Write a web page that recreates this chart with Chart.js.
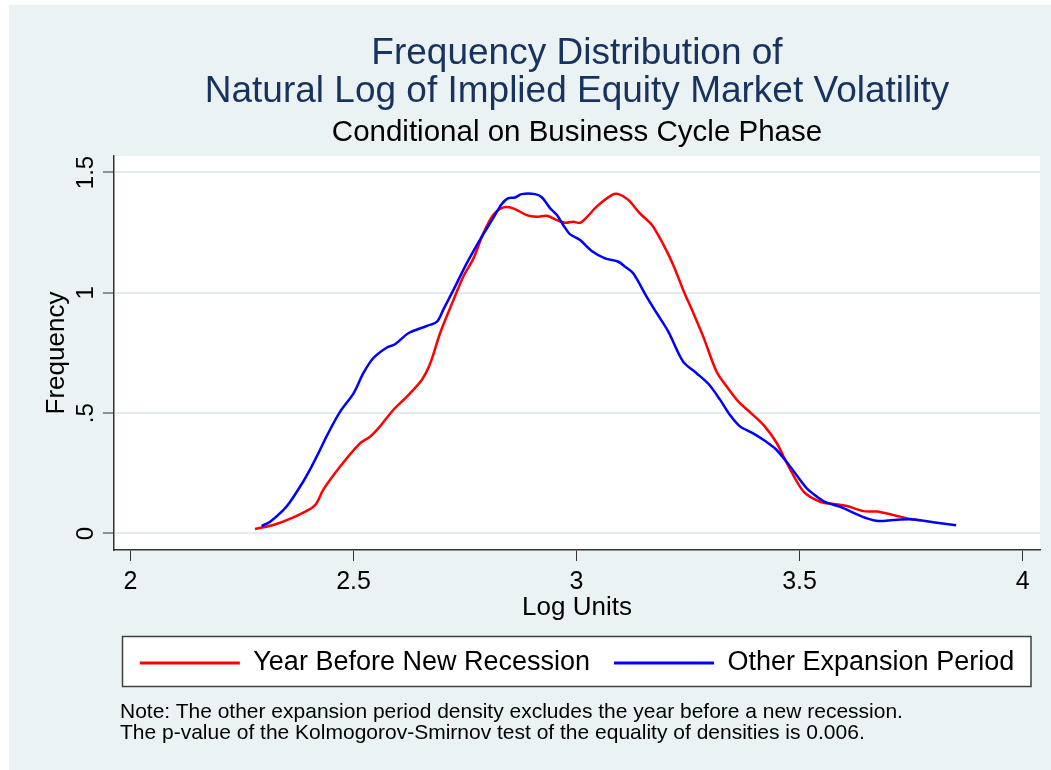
<!DOCTYPE html>
<html>

<head>
  <meta charset="UTF-8">
  <script src="https://cdn.jsdelivr.net/npm/chart.js"></script>
  <title>Frequency Distribution</title>
  <style>
    body {
      margin: 0;
      background: #fff;
      overflow: hidden;
      font-family: 'Liberation Sans', Arial, sans-serif;
    }

    .grafico {
      position: absolute;
      left: 9px;
      top: 5px;
      width: 1042px;
      height: 765px;
      background: #eaf2f3;
    }

    .nota {
      position: absolute;
      left: 120px;
      top: 699.5px;
      font-size: 21px;
      line-height: 21px;
      color: #000;
      white-space: nowrap;
    }
  </style>
</head>

<body>
  <div class="grafico">
    <canvas id="myChart" width="1042" height="765"></canvas>
  </div>
  <div class="nota">
    Note: The other expansion period density excludes the year before a new recession.<br>
    The p-value of the Kolmogorov-Smirnov test of the equality of densities is 0.006.
  </div>
</body>

</html>

<script>
  // eixo x: log units, eixo y: frequency
  const recessionX = [2.279, 2.320, 2.365, 2.399, 2.416, 2.432, 2.470, 2.515, 2.537, 2.559,
    2.589, 2.619, 2.653, 2.672, 2.694, 2.724, 2.746, 2.769, 2.791, 2.813,
    2.836, 2.858, 2.888, 2.911, 2.933, 2.956, 2.974, 2.993, 3.008, 3.023,
    3.045, 3.079, 3.094, 3.116, 3.142, 3.169, 3.195, 3.217, 3.239, 3.262,
    3.284, 3.314, 3.337, 3.363, 3.393, 3.421, 3.449, 3.475, 3.509, 3.546,
    3.576, 3.606, 3.643, 3.673, 3.710, 3.748, 3.775];
  const recessionY = [0.019, 0.035, 0.067, 0.098, 0.123, 0.181, 0.278, 0.375, 0.402, 0.444,
    0.513, 0.568, 0.638, 0.707, 0.832, 0.970, 1.067, 1.143, 1.247, 1.323,
    1.355, 1.351, 1.323, 1.316, 1.320, 1.302, 1.291, 1.295, 1.291, 1.314,
    1.358, 1.406, 1.410, 1.386, 1.330, 1.282, 1.199, 1.115, 1.012, 0.915,
    0.818, 0.672, 0.610, 0.548, 0.497, 0.447, 0.375, 0.280, 0.174, 0.132,
    0.123, 0.114, 0.093, 0.091, 0.077, 0.060, 0.055];

  const expansionX = [2.294, 2.313, 2.343, 2.358, 2.387, 2.402, 2.421, 2.443, 2.470, 2.500,
    2.522, 2.544, 2.574, 2.593, 2.623, 2.664, 2.687, 2.701, 2.724, 2.754,
    2.784, 2.813, 2.832, 2.847, 2.862, 2.877, 2.907, 2.922, 2.941, 2.956,
    2.970, 2.985, 3.008, 3.034, 3.064, 3.094, 3.109, 3.127, 3.157, 3.180,
    3.206, 3.239, 3.269, 3.296, 3.322, 3.344, 3.367, 3.396, 3.423, 3.447,
    3.475, 3.516, 3.539, 3.561, 3.591, 3.621, 3.651, 3.677, 3.710, 3.748,
    3.778, 3.808, 3.851];
  const expansionY = [0.031, 0.049, 0.098, 0.132, 0.215, 0.264, 0.333, 0.416, 0.506, 0.582,
    0.666, 0.728, 0.772, 0.786, 0.832, 0.862, 0.880, 0.929, 1.012, 1.123,
    1.222, 1.310, 1.368, 1.393, 1.396, 1.410, 1.410, 1.397, 1.351, 1.323,
    1.282, 1.244, 1.219, 1.174, 1.143, 1.129, 1.108, 1.081, 0.984, 0.915,
    0.838, 0.714, 0.666, 0.621, 0.555, 0.492, 0.444, 0.416, 0.384, 0.350,
    0.288, 0.188, 0.153, 0.128, 0.111, 0.086, 0.063, 0.052, 0.056, 0.059,
    0.053, 0.045, 0.034];

  const seriesNames = ['Year Before New Recession', 'Other Expansion Period'];
  const xTicks = [2, 2.5, 3, 3.5, 4];
  const xTickLabels = ['2', '2.5', '3', '3.5', '4'];
  const yTicks = [0, 0.5, 1, 1.5];
  const yTickLabels = ['0', '.5', '1', '1.5'];

  function juntar(xs, ys) {
    var pontos = [];
    for (var i = 0; i < xs.length; i++) {
      pontos.push({ x: xs[i], y: ys[i] });
    }
    return pontos;
  }

  Chart.defaults.font.family = "'Liberation Sans', Arial, sans-serif";
  Chart.defaults.color = '#000';

  // fundo branco do plot, caixa da legenda e rotulos verticais do eixo y
  const stataFrame = {
    id: 'stataFrame',
    beforeDraw(chart) {
      const ctx = chart.ctx;
      const a = chart.chartArea;
      const lg = chart.legend;
      ctx.save();
      ctx.fillStyle = '#fff';
      ctx.fillRect(a.left, a.top, a.right - a.left, a.bottom - a.top);
      var bx = a.left + 8.5;
      var bw = a.right - 9 - bx;
      var by = lg.top + 11;
      var bh = lg.bottom - by;
      ctx.fillRect(bx, by, bw, bh);
      ctx.strokeStyle = '#404040';
      ctx.lineWidth = 1.5;
      ctx.strokeRect(bx, by, bw, bh);
      ctx.restore();
    },
    afterDraw(chart) {
      const ctx = chart.ctx;
      const sy = chart.scales.y;
      ctx.save();
      ctx.fillStyle = '#000';
      ctx.font = "24px 'Liberation Sans', Arial, sans-serif";
      ctx.textAlign = 'center';
      ctx.textBaseline = 'alphabetic';
      sy.ticks.forEach(function (t, i) {
        var py = sy.getPixelForValue(t.value);
        ctx.save();
        ctx.translate(sy.right - 21.3, py);
        ctx.rotate(-Math.PI / 2);
        ctx.fillText(yTickLabels[i], 0, 0);
        ctx.restore();
      });
      ctx.restore();
    }
  };

  const config = {
    type: 'line',
    data: {
      datasets: [{
        label: seriesNames[0],
        data: juntar(recessionX, recessionY),
        borderColor: '#ff0000',
        backgroundColor: '#ff0000',
        borderWidth: 2.5,
        pointRadius: 0,
        tension: 0.3,
        order: 1
      }, {
        label: seriesNames[1],
        data: juntar(expansionX, expansionY),
        borderColor: '#0000ff',
        backgroundColor: '#0000ff',
        borderWidth: 2.5,
        pointRadius: 0,
        tension: 0.3,
        order: 0
      }]
    },
    options: {
      responsive: false,
      animation: false,
      layout: { padding: { left: 0, right: 11, top: 0, bottom: 83.5 } },
      plugins: {
        tooltip: { enabled: false },
        title: {
          display: true,
          fullSize: false,
          text: ['Frequency Distribution of', 'Natural Log of Implied Equity Market Volatility'],
          color: '#18325e',
          font: { size: 37, weight: 'normal', lineHeight: '37.5px' },
          padding: { top: 30.2, bottom: 7.6 }
        },
        subtitle: {
          display: true,
          fullSize: false,
          text: 'Conditional on Business Cycle Phase',
          color: '#000',
          font: { size: 29.5, weight: 'normal', lineHeight: '30px' },
          padding: { top: 0, bottom: 8.2 }
        },
        legend: {
          position: 'bottom',
          fullSize: false,
          labels: {
            boxWidth: 100,
            boxHeight: 3,
            padding: 24,
            color: '#000',
            font: { size: 27 },
            sort: function (a, b) { return a.datasetIndex - b.datasetIndex; },
            generateLabels: function (chart) {
              var itens = Chart.defaults.plugins.legend.labels.generateLabels(chart);
              itens.forEach(function (it) {
                it.lineWidth = 0;
                it.fillStyle = it.strokeStyle;
              });
              return itens;
            }
          }
        }
      },
      scales: {
        x: {
          type: 'linear',
          min: 1.963,
          max: 4.039,
          afterBuildTicks: function (s) { s.ticks = xTicks.map(function (v) { return { value: v }; }); },
          afterFit: function (s) { s.height = 75.5; },
          ticks: {
            autoSkip: false,
            maxRotation: 0,
            padding: 6,
            color: '#000',
            font: { size: 25 },
            callback: function (v, i) { return xTickLabels[i]; }
          },
          grid: { drawOnChartArea: false, drawTicks: true, tickLength: 11, tickColor: '#333', tickWidth: 1 },
          border: { color: '#333', width: 1.5 },
          title: {
            display: true,
            text: 'Log Units',
            color: '#000',
            font: { size: 26 },
            padding: { top: 0, bottom: 2 }
          }
        },
        y: {
          min: -0.0686,
          max: 1.5684,
          afterBuildTicks: function (s) { s.ticks = yTicks.map(function (v) { return { value: v }; }); },
          afterFit: function (s) { s.width = 105; },
          ticks: { display: false },
          grid: { color: '#e3ecef', lineWidth: 2, drawTicks: true, tickLength: 11, tickColor: '#333', tickWidth: 1 },
          border: { color: '#333', width: 1.5 },
          title: {
            display: true,
            text: 'Frequency',
            color: '#000',
            font: { size: 26 },
            padding: { top: 32.4, bottom: 0 }
          }
        }
      }
    },
    plugins: [stataFrame]
  };

  const myChart = new Chart(document.getElementById('myChart'), config);
</script>
